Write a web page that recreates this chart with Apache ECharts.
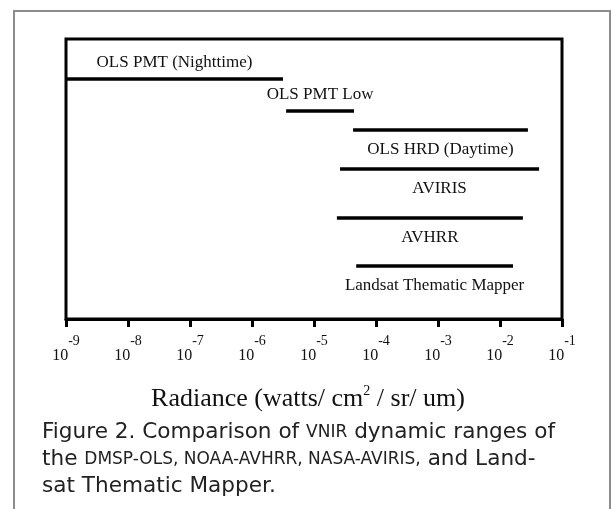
<!DOCTYPE html>
<html><head><meta charset="utf-8">
<script src="https://cdn.jsdelivr.net/npm/echarts@6/dist/echarts.min.js"></script>
<style>html,body{margin:0;padding:0;background:#fff}#c{width:611px;height:509px}</style>
</head><body><div id="c"></div>
<script>
// ---- data ----
const instruments = ['OLS PMT (Nighttime)', 'OLS PMT Low', 'OLS HRD (Daytime)', 'AVIRIS', 'AVHRR', 'Landsat Thematic Mapper'];
const rangeLow  = [1e-9,   3.55e-6, 4.27e-5, 2.63e-5, 2.34e-5, 4.79e-5];   // watts/cm2/sr/um
const rangeHigh = [3.16e-6, 4.42e-5, 2.82e-2, 4.27e-2, 2.34e-2, 1.62e-2];
const rowLevel  = [24.0, 20.8, 18.9, 15.0, 10.1, 5.3];                    // vertical ordering level
const tickExponents = ['-9', '-8', '-7', '-6', '-5', '-4', '-3', '-2', '-1'];
const axisTitle = ['Radiance (watts/ cm', '2', ' / sr/ um)'];
const captionLines = [
  [['n', 'Figure 2. Comparison of '], ['sc', 'VNIR'], ['n', ' dynamic ranges of']],
  [['n', 'the '], ['sc', 'DMSP-OLS, NOAA-AVHRR, NASA-AVIRIS,'], ['n', ' and Land-']],
  [['n', 'sat Thematic Mapper.']]
];
const labelAbove = { 'OLS PMT (Nighttime)': true, 'OLS PMT Low': true };

const chart = echarts.init(document.getElementById('c'), null, { renderer: 'canvas' });
const serif = '"Liberation Serif", "Times New Roman", serif';
const sans = '"DejaVu Sans", sans-serif';

const captionText = captionLines.map(line => line.map(([k, t]) => '{' + k + '|' + t + '}').join('')).join('\n');

chart.setOption({
  backgroundColor: '#ffffff',
  animation: false,
  graphic: [{
    type: 'rect', z: -10, silent: true,
    shape: { x: 14, y: 11, width: 596, height: 530 },
    style: { fill: 'none', stroke: '#8c8c8c', lineWidth: 2 }
  }],
  title: {
    left: 42, top: 419, padding: 0,
    text: captionText,
    textStyle: {
      fontWeight: 'normal',
      rich: {
        n: { fontFamily: sans, fontSize: 21.6, fontWeight: 'normal', color: '#222', lineHeight: 27 },
        sc: { fontFamily: sans, fontSize: 17, fontWeight: 'normal', color: '#222', lineHeight: 27 }
      }
    }
  },
  grid: { left: 66, top: 39, right: 49, bottom: 190, show: true, borderColor: '#000', borderWidth: 3, backgroundColor: 'transparent' },
  xAxis: {
    type: 'log', logBase: 10, min: 1e-9, max: 1e-1, interval: 1, splitNumber: 8,
    axisLine: { show: true, lineStyle: { color: '#000', width: 3 } },
    axisTick: { show: true, inside: false, length: 8, lineStyle: { color: '#000', width: 3 } },
    minorTick: { show: false }, splitLine: { show: false },
    axisLabel: {
      margin: 15,
      formatter: (v, idx) => '{b|10}{s|' + tickExponents[idx] + '}',
      rich: {
        b: { fontFamily: serif, fontSize: 16, color: '#111' },
        s: { fontFamily: serif, fontSize: 14, color: '#111', padding: [0, 0, 30, 0] }
      }
    },
    name: '{r|' + axisTitle[0] + '}{p|' + axisTitle[1] + '}{r|' + axisTitle[2] + '}',
    nameLocation: 'middle', nameGap: 65,
    nameTextStyle: {
      padding: [0, 12, 0, 0],
      rich: {
        r: { fontFamily: serif, fontSize: 26, color: '#111' },
        p: { fontFamily: serif, fontSize: 14, color: '#111', padding: [0, 0, 16, 0] }
      }
    }
  },
  yAxis: { type: 'value', min: 0, max: 28, show: false, splitLine: { show: false } },
  series: [{
    type: 'custom',
    clip: false,
    encode: { x: [0, 1], y: 2 },
    data: instruments.map((n, i) => [rangeLow[i], rangeHigh[i], rowLevel[i]]),
    renderItem: function (params, api) {
      const i = params.dataIndex;
      const p1 = api.coord([api.value(0), api.value(2)]);
      const p2 = api.coord([api.value(1), api.value(2)]);
      const name = instruments[i];
      const midX = (p1[0] + p2[0]) / 2;
      const dy = labelAbove[name] ? -16 : 20;
      return {
        type: 'group',
        children: [
          { type: 'line', shape: { x1: p1[0], y1: p1[1], x2: p2[0], y2: p2[1] }, style: { stroke: '#000', lineWidth: 3.5 } },
          { type: 'text', x: midX, y: p1[1] + dy,
            style: { text: name, fill: '#111', font: '17px "Liberation Serif"', align: 'center', verticalAlign: 'middle' } }
        ]
      };
    }
  }]
});
</script>
</body></html>
